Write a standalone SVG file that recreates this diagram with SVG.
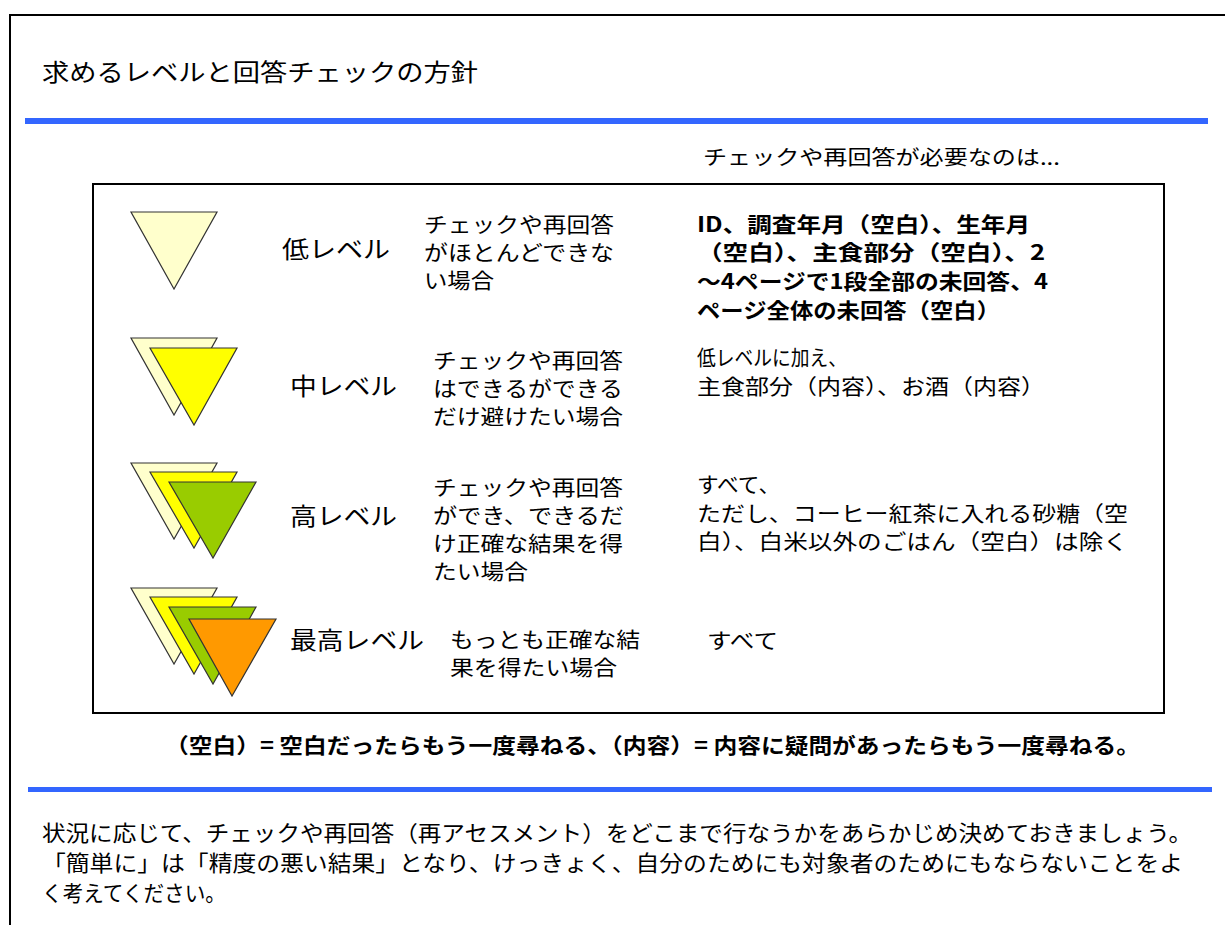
<svg xmlns="http://www.w3.org/2000/svg" width="1225" height="925" viewBox="0 0 1225 925">
<style>
text{font-family:"Noto Sans CJK JP","Liberation Sans",sans-serif;fill:#000;}
.t{font-size:24px;}
.h{font-size:20px;}
.lv{font-size:24px;}
.d{font-size:21px;}
.b{font-size:21px;font-weight:bold;}
.p{font-size:22px;}
.tri{stroke:#333;stroke-width:1.2;}
.blue{fill:#3366FF;}
</style>
<rect width="1225" height="925" fill="#fff"/>
<g id="frame">
<path d="M1225 15 H10 V925" fill="none" stroke="#000" stroke-width="2"/>
</g>
<g id="title"><text class="t" x="42" y="81" textLength="436" lengthAdjust="spacingAndGlyphs">求めるレベルと回答チェックの方針</text></g>
<rect id="rule-top" class="blue" x="25" y="118" width="1183" height="6"/>
<g id="header"><text class="h" x="703" y="165" textLength="357" lengthAdjust="spacingAndGlyphs">チェックや再回答が必要なのは...</text></g>
<g id="box"><rect x="93" y="184" width="1071" height="529" fill="#fff" stroke="#000" stroke-width="2"/></g>
<g id="level-low">
<polygon class="tri" points="131,212 217,212 174,289" fill="#FFFFCC"/>
<text class="lv" x="282" y="258" textLength="108" lengthAdjust="spacingAndGlyphs">低レベル</text>
<text class="d" x="424" y="232" textLength="190" lengthAdjust="spacingAndGlyphs">チェックや再回答</text>
<text class="d" x="424" y="260" textLength="190" lengthAdjust="spacingAndGlyphs">がほとんどできな</text>
<text class="d" x="424" y="288" textLength="70" lengthAdjust="spacingAndGlyphs">い場合</text>
<text class="b" x="697" y="232" textLength="333" lengthAdjust="spacingAndGlyphs">ID、調査年月（空白）、生年月</text>
<text class="b" x="697" y="260" textLength="348" lengthAdjust="spacingAndGlyphs">（空白）、主食部分（空白）、2</text>
<text class="b" x="697" y="289" textLength="351" lengthAdjust="spacingAndGlyphs">～4ページで1段全部の未回答、4</text>
<text class="b" x="697" y="318" textLength="303" lengthAdjust="spacingAndGlyphs">ページ全体の未回答（空白）</text>
</g>
<g id="level-mid">
<polygon class="tri" points="131,338 217,338 174,415" fill="#FFFFCC"/>
<polygon class="tri" points="150,348 237,348 194,425" fill="#FFFF00"/>
<text class="lv" x="290" y="395" textLength="107" lengthAdjust="spacingAndGlyphs">中レベル</text>
<text class="d" x="433" y="368" textLength="190" lengthAdjust="spacingAndGlyphs">チェックや再回答</text>
<text class="d" x="433" y="396" textLength="190" lengthAdjust="spacingAndGlyphs">はできるができる</text>
<text class="d" x="433" y="424" textLength="190" lengthAdjust="spacingAndGlyphs">だけ避けたい場合</text>
<text class="d" x="697" y="365" textLength="150" lengthAdjust="spacingAndGlyphs">低レベルに加え、</text>
<text class="d" x="697" y="394" textLength="348" lengthAdjust="spacingAndGlyphs">主食部分（内容）、お酒（内容）</text>
</g>
<g id="level-high">
<polygon class="tri" points="131,463 217,463 174,539" fill="#FFFFCC"/>
<polygon class="tri" points="150,472 237,472 194,548" fill="#FFFF00"/>
<polygon class="tri" points="169,482 256,482 213,558" fill="#99CC00"/>
<text class="lv" x="290" y="525" textLength="107" lengthAdjust="spacingAndGlyphs">高レベル</text>
<text class="d" x="433" y="495" textLength="190" lengthAdjust="spacingAndGlyphs">チェックや再回答</text>
<text class="d" x="433" y="523" textLength="191" lengthAdjust="spacingAndGlyphs">ができ、できるだ</text>
<text class="d" x="433" y="551" textLength="190" lengthAdjust="spacingAndGlyphs">け正確な結果を得</text>
<text class="d" x="433" y="579" textLength="95" lengthAdjust="spacingAndGlyphs">たい場合</text>
<text class="d" x="697" y="492" textLength="83" lengthAdjust="spacingAndGlyphs">すべて、</text>
<text class="d" x="697" y="521" textLength="431" lengthAdjust="spacingAndGlyphs">ただし、コーヒー紅茶に入れる砂糖（空</text>
<text class="d" x="697" y="549" textLength="431" lengthAdjust="spacingAndGlyphs">白）、白米以外のごはん（空白）は除く</text>
</g>
<g id="level-highest">
<polygon class="tri" points="131,588 217,588 174,664" fill="#FFFFCC"/>
<polygon class="tri" points="150,597 237,597 194,674" fill="#FFFF00"/>
<polygon class="tri" points="169,607 256,607 213,684" fill="#99CC00"/>
<polygon class="tri" points="189,619 276,619 232,696" fill="#FF9900"/>
<text class="lv" x="290" y="649" textLength="134" lengthAdjust="spacingAndGlyphs">最高レベル</text>
<text class="d" x="450" y="647" textLength="190" lengthAdjust="spacingAndGlyphs">もっとも正確な結</text>
<text class="d" x="450" y="675" textLength="167" lengthAdjust="spacingAndGlyphs">果を得たい場合</text>
<text class="d" x="707" y="648" textLength="71" lengthAdjust="spacingAndGlyphs">すべて</text>
</g>
<g id="footnote"><text class="b" x="165" y="753" textLength="975" lengthAdjust="spacingAndGlyphs">（空白）= 空白だったらもう一度尋ねる、（内容）= 内容に疑問があったらもう一度尋ねる。</text></g>
<rect id="rule-bottom" class="blue" x="28" y="787" width="1184" height="5"/>
<g id="summary">
<text class="p" x="42" y="841" textLength="1150" lengthAdjust="spacingAndGlyphs">状況に応じて、チェックや再回答（再アセスメント）をどこまで行なうかをあらかじめ決めておきましょう。</text>
<text class="p" x="42" y="871" textLength="1141" lengthAdjust="spacingAndGlyphs">「簡単に」は「精度の悪い結果」となり、けっきょく、自分のためにも対象者のためにもならないことをよ</text>
<text class="p" x="42" y="901" textLength="184" lengthAdjust="spacingAndGlyphs">く考えてください。</text>
</g>
</svg>
